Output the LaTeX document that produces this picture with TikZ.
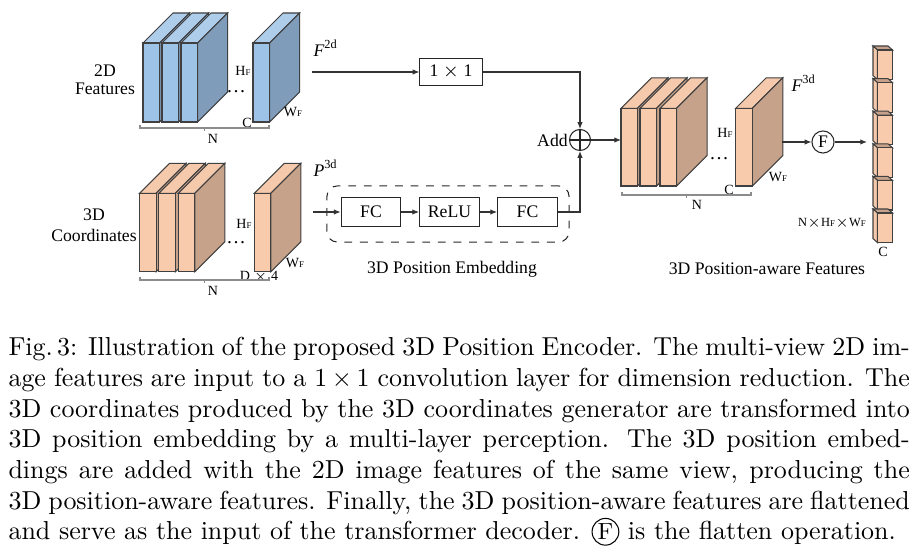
\documentclass[tikz,border=0pt]{standalone}
\usepackage{fontspec}
\usepackage{amsmath}
\usepackage{tikz}
\usetikzlibrary{arrows.meta, positioning, shapes.geometric, calc}
\newfontfamily\tnr{Liberation Serif}
\definecolor{featfront}{HTML}{9DC3E6}
\definecolor{feattop}{HTML}{AECDEB}
\definecolor{featside}{HTML}{7F9DBA}
\definecolor{posfront}{HTML}{F8CBAD}
\definecolor{postop}{HTML}{F5C9AB}
\definecolor{posside}{HTML}{C7A28B}
\definecolor{edgegray}{HTML}{404040}

% one feature slab: x, y (front top left), width, height, depth, front, top, side
\newcommand{\slab}[8]{%
  \filldraw[draw=edgegray, fill=#7] (#1,#2) -- ++(#5,-#5) -- ++(#3,0) -- ++(-#5,#5) -- cycle;
  \filldraw[draw=edgegray, fill=#8] ({#1+#3},#2) -- ++(#5,-#5) -- ++(0,#4) -- ++(-#5,#5) -- cycle;
  \filldraw[draw=edgegray, fill=#6] (#1,#2) rectangle ++(#3,#4);
}
% one cell of the flattened column: x, y (front top left)
\newcommand{\flatcube}[2]{%
  \filldraw[draw=edgegray, fill=posside] (#1,#2) -- ++(-4.5,-4) -- ++(15,0) -- ++(4.5,4) -- cycle;
  \filldraw[draw=edgegray, fill=postop] (#1,#2) -- ++(-4.5,-4) -- ++(0,29.6) -- ++(4.5,4) -- cycle;
  \filldraw[draw=edgegray, fill=posfront] (#1,#2) rectangle ++(15,29.6);
}
\newcommand{\subF}{{\fontsize{3.4}{4}\selectfont F}}

\begin{document}
\begin{tikzpicture}[
  x=0.385pt, y=-0.385pt, line width=0.4pt,
  op/.style={
    rectangle, draw=black!85, inner sep=0pt,
    minimum width=23pt, minimum height=11.2pt,
    font=\tnr\fontsize{6.8}{7}\selectfont},
  ar/.style={-{Latex[length=2.6pt,width=2.1pt]}, black!80},
  lbl/.style={font=\tnr\fontsize{6.8}{7}\selectfont, inner sep=0pt, align=center},
  sml/.style={font=\tnr\fontsize{5.4}{6}\selectfont, inner sep=0pt},
  dts/.style={font=\tnr\fontsize{7.5}{8}\selectfont, inner sep=0pt, anchor=base},
  brace/.style={draw=black!45},
]
  \useasboundingbox (0,0) rectangle (919,555);

  % 2D features
  \foreach \sx in {143,162,181,253} {\slab{\sx}{43}{16.6}{79}{30}{featfront}{feattop}{featside}}
  \node[lbl] (feat2d) at (105,80) {2D\\Features};
  \node[sml] (hf1) at (243,71) {H\subF};
  \node[sml] (wf1) at (293,112) {W\subF};
  \node[sml] (c1) at (247,123) {C};
  \node[dts] (dots1) at (236,93) {\dots};
  \draw[brace] (140,125) -- (140,128) -- (269,128) -- (269,125) (204.5,128) -- (204.5,131);
  \node[sml] (n1) at (213,139) {N};

  % 3D coordinates
  \foreach \sx in {139.5,158.8,178.3,254.3} {\slab{\sx}{193.3}{16.6}{78.4}{30}{posfront}{postop}{posside}}
  \node[lbl] (coord3d) at (94,225) {3D\\[1.2pt]Coordinates};
  \node[sml] (hf2) at (244,224) {H\subF};
  \node[sml] (wf2) at (295,263) {W\subF};
  \node[sml] (dx4) at (259,277) {D $\times$ 4};
  \node[dts] (dots2) at (236,244) {\dots};
  \draw[brace] (140,277) -- (140,280) -- (269,280) -- (269,277) (204.5,280) -- (204.5,283);
  \node[sml] (n2) at (213,291) {N};

  % position-aware features
  \foreach \sx in {621,640,660,735.7} {\slab{\sx}{108.3}{16.6}{77.7}{30.5}{posfront}{postop}{posside}}
  \node[sml] (hf3) at (725,133) {H\subF};
  \node[sml] (wf3) at (778,177) {W\subF};
  \node[sml] (c3) at (729,190) {C};
  \node[dts] (dots3) at (719,160) {\dots};
  \draw[brace] (622,192) -- (622,195) -- (751,195) -- (751,192) (686.5,195) -- (686.5,198);
  \node[sml] (n3) at (697,205) {N};

  % flattened column
  \foreach \k in {0,...,5} {\flatcube{877.5}{50+32.6*\k}}
  \node[font=\tnr\fontsize{4.8}{5}\selectfont, inner sep=0pt] (nhw) at (832,223) {N$\times$H\subF$\times$W\subF};
  \node[sml] (c4) at (883,252) {C};
  \node[lbl] (pafeat) at (767,269) {3D Position-aware Features};

  % encoder
  \node[lbl, anchor=west] (f2d) at (313,48) {\textit{F}\textsuperscript{2d}};
  \node[lbl, anchor=west] (p3d) at (313,168) {\textit{P}\textsuperscript{3d}};
  \node[lbl, anchor=west] (f3d) at (791,83) {\textit{F}\textsuperscript{3d}};
  \node[op, minimum width=23.9pt, minimum height=10.6pt] (conv) at (451,72) {1 $\times$ 1};
  \node[op] (fc1) at (371,212) {FC};
  \node[op] (relu) at (449.5,212) {ReLU};
  \node[op] (fc2) at (527.5,212) {FC};
  \node[rectangle, rounded corners=4pt, draw=black!85, dashed, minimum width=93.2pt,
        minimum height=21.6pt] (embed) at (448,214) {};
  \node[lbl] (embtxt) at (452,269) {3D Position Embedding};
  \node[circle, draw=black!85, minimum size=8.1pt, inner sep=0pt] (add) at (580,140) {};
  \draw[black!85] (add.north) -- (add.south) (add.west) -- (add.east);
  \node[lbl, anchor=east, inner sep=0.3pt] (addtxt) at (add.west) {Add};
  \node[circle, draw=black!85, minimum size=8.5pt, inner sep=0pt,
        font=\tnr\fontsize{6.8}{7}\selectfont] (flat) at (823,142) {F};

  \coordinate (in2d) at (312,72);
  \coordinate (in3d) at (313,212);
  \coordinate (pafront) at (621,140);
  \coordinate (paside) at (782,142);
  \coordinate (colin) at (867,142);

  \draw[ar] (in2d) -- (conv);
  \draw[ar] (conv.east) -| (add.north);
  \draw[ar] (in3d) -- (fc1);
  \draw[ar] (fc1) -- (relu);
  \draw[ar] (relu) -- (fc2);
  \draw[ar] (fc2.east) -| (add.south);
  \draw[ar] (add.east) -- (pafront);
  \draw[ar] (paside) -- (flat);
  \draw[ar] (flat) -- (colin);

  % caption
  \node[anchor=north west, inner sep=0pt, align=left,
        font=\fontsize{10}{11.8}\selectfont] (caption) at (8,337) {%
    \makebox[347pt][s]{Fig.\,3: Illustration of the proposed 3D Position Encoder. The multi-view 2D im-}\\
    \makebox[347pt][s]{age features are input to a $1\times1$ convolution layer for dimension reduction. The}\\
    \makebox[347pt][s]{3D coordinates produced by the 3D coordinates generator are transformed into}\\
    \makebox[347pt][s]{3D position embedding by a multi-layer perception. The 3D position embed-}\\
    \makebox[347pt][s]{dings are added with the 2D image features of the same view, producing the}\\
    \makebox[347pt][s]{3D position-aware features. Finally, the 3D position-aware features are flattened}\\
    and serve as the input of the transformer decoder.
    \tikz[baseline=(cf.base)]\node[draw, circle, inner sep=0.6pt, font=\small] (cf) {F};
    is the flatten operation.};
\end{tikzpicture}
\end{document}
